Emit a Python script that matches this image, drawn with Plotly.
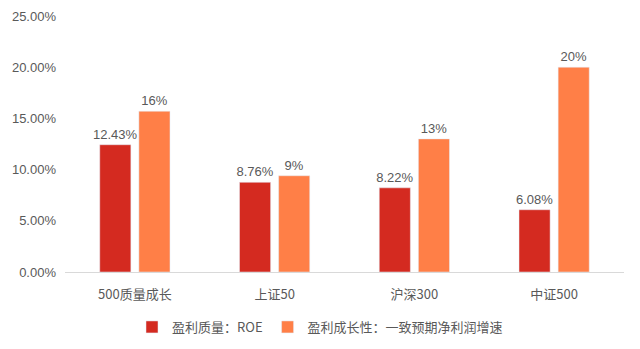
import plotly.graph_objects as go

categories = ["500质量成长", "上证50", "沪深300", "中证500"]
roe = [0.1243, 0.0876, 0.0822, 0.0608]
growth = [0.157, 0.094, 0.130, 0.200]
series_names = ["盈利质量：ROE", "盈利成长性：一致预期净利润增速"]
tick_vals = [0, 0.05, 0.10, 0.15, 0.20, 0.25]

RED = "#D42A20"
ORANGE = "#FF7F47"
TXT = "#595959"
FONT = "Liberation Sans, Noto Sans CJK SC, sans-serif"

fig = go.Figure()
fig.add_trace(go.Bar(
    x=categories, y=roe, name=series_names[0], marker_color=RED,
    texttemplate="%{y:.2%}", textposition="outside", textangle=0,
    constraintext="none",
    textfont=dict(size=13, color=TXT, family=FONT), cliponaxis=False,
))
fig.add_trace(go.Bar(
    x=categories, y=growth, name=series_names[1], marker_color=ORANGE,
    texttemplate="%{y:.0%}", textposition="outside", textangle=0,
    constraintext="none",
    textfont=dict(size=13, color=TXT, family=FONT), cliponaxis=False,
))

fig.update_layout(
    width=640, height=349,
    margin=dict(l=65, r=16, t=16, b=77, autoexpand=False),
    paper_bgcolor="white", plot_bgcolor="white",
    barmode="group", bargap=0.44, bargroupgap=0.205,
    font=dict(family=FONT, size=13, color=TXT),
    showlegend=True,
    legend=dict(
        orientation="h", xref="container", x=0.5, xanchor="center",
        yref="container", y=22 / 349, yanchor="middle",
        font=dict(size=13, color=TXT, family="Noto Sans CJK SC, sans-serif"),
        itemwidth=30, traceorder="normal",
    ),
    xaxis=dict(
        showline=True, linecolor="#D9D9D9", linewidth=1,
        ticks="", showgrid=False, zeroline=False, automargin=False,
        tickfont=dict(size=13, color=TXT, family="Noto Sans CJK SC, sans-serif"),
        ticklabelstandoff=10,
    ),
    yaxis=dict(
        range=[0, 0.25], tickvals=tick_vals, tickformat=".2%",
        showgrid=False, zeroline=False, showline=False, ticks="",
        automargin=False,
        tickfont=dict(size=13, color=TXT, family=FONT),
        ticklabelstandoff=8,
    ),
)

fig.write_html("out.html")
